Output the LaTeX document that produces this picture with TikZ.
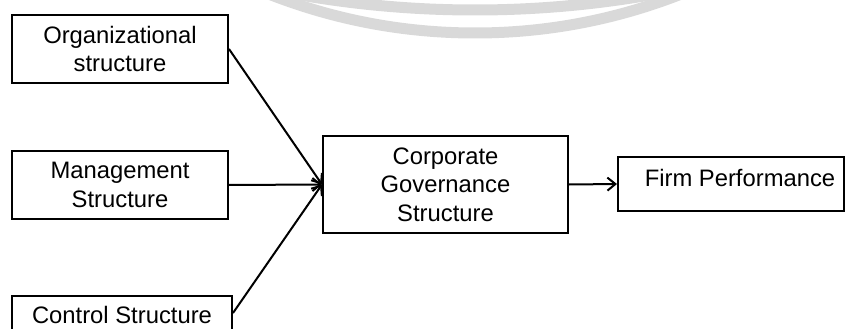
\documentclass[tikz,border=0pt]{standalone}
\usepackage{fontspec}
\setmainfont{Liberation Sans}
\usetikzlibrary{arrows.meta}

\tikzset{
  boxnode/.style={draw=black, line width=2pt, rectangle, inner sep=0pt, align=center},
  labeltext/.style={inner sep=0pt, align=center},
  link/.style={line width=2pt, -{Straight Barb[length=8pt,width=13pt,line width=2pt]}},
  watermark/.style={draw=black!15, line width=11pt}
}

\begin{document}
\begin{tikzpicture}[x=1pt, y=-1pt, font=\fontsize{23.8pt}{28.5pt}\selectfont]
  \useasboundingbox (0,0) rectangle (852,329);
  \clip (0,0) rectangle (852,329);

  % faint arcs of the logo in the background
  \draw[watermark] (475,-530) circle[radius=563pt];
  \draw[watermark] (475,-1003) circle[radius=1013pt];

  % determinants
  \node[boxnode, minimum width=216pt, minimum height=68pt] (org) at (120,49)
    {Organizational\\structure};
  \node[boxnode, minimum width=216pt, minimum height=68pt] (mgt) at (120,185)
    {Management\\Structure};
  \node[boxnode, minimum width=220pt, minimum height=68pt, anchor=north] (ctl) at (122,295) {};
  \node[labeltext, anchor=base] (ctltext) at (122,323) {Control Structure};

  % mediator and outcome
  \node[boxnode, minimum width=245pt, minimum height=97pt] (cgs) at (445.5,184.5)
    {Corporate\\Governance\\Structure};
  \node[boxnode, minimum width=226pt, minimum height=54pt] (fp) at (731,184) {};
  \node[labeltext, anchor=base] (fptext) at (740,186) {Firm Performance};

  % relations
  \draw[link] (org.east) -- (cgs.west);
  \draw[link] (mgt.east) -- (cgs.west);
  \draw[link] ([yshift=-18pt]ctl.north east) -- (cgs.west);
  \draw[link] (cgs.east) -- (fp.west);
\end{tikzpicture}
\end{document}
